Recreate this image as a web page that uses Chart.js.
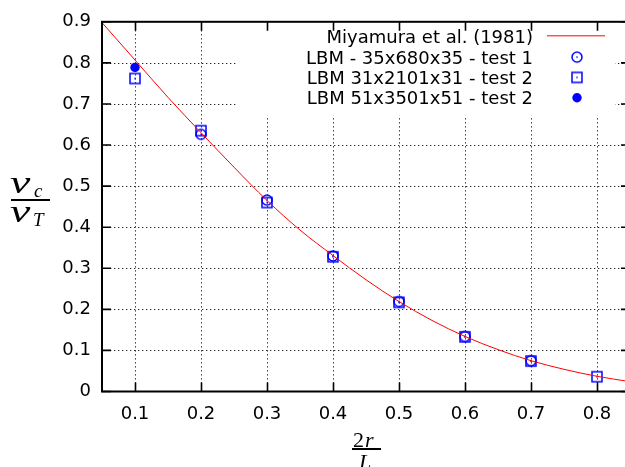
<!DOCTYPE html>
<html><head><meta charset="utf-8">
<script src="https://cdn.jsdelivr.net/npm/chart.js@4/dist/chart.umd.min.js"></script>
<style>
html,body{margin:0;padding:0;overflow:hidden;background:#fff;width:625px;height:467px}
#wrap{width:640px;height:467px}
</style></head>
<body><div id="wrap"><canvas id="c" width="640" height="467"></canvas></div>
<script>
// ---- data ----
const curveX = [0.05,0.10,0.15,0.20,0.25,0.30,0.35,0.40,0.45,0.50,0.55,0.60,0.65,0.70,0.75,0.80,0.85];
const curveY = [0.898,0.807,0.716,0.630,0.546,0.465,0.393,0.331,0.272,0.219,0.173,0.134,0.102,0.075,0.054,0.037,0.024];
const test1X = [0.2,0.3,0.4,0.5,0.6,0.7];
const test1Y = [0.626,0.466,0.330,0.219,0.134,0.075];
const test2X = [0.1,0.2,0.3,0.4,0.5,0.6,0.7,0.8];
const test2Y = [0.762,0.635,0.460,0.328,0.217,0.133,0.074,0.036];
const test3X = [0.1];
const test3Y = [0.789];
const xTicks = [0.1,0.2,0.3,0.4,0.5,0.6,0.7,0.8];
const xTickLabels = ['0.1','0.2','0.3','0.4','0.5','0.6','0.7','0.8'];
const yTicks = [0,0.1,0.2,0.3,0.4,0.5,0.6,0.7,0.8,0.9];
const yTickLabels = ['0','0.1','0.2','0.3','0.4','0.5','0.6','0.7','0.8','0.9'];
const seriesNames = ['Miyamura et al. (1981)','LBM - 35x680x35 - test 1','LBM 31x2101x31 - test 2','LBM 51x3501x51 - test 2'];

const BLUE = '#0000ff', RED = '#ff0000';
function makeMarker(kind){
  const c = document.createElement('canvas'); c.width = 16; c.height = 16;
  const g = c.getContext('2d');
  g.strokeStyle = BLUE; g.fillStyle = BLUE; g.lineWidth = 1.5;
  if (kind === 'circle'){ g.beginPath(); g.arc(8,8,5,0,Math.PI*2); g.stroke(); }
  else { g.strokeRect(3,3,10,10); }
  g.fillRect(7.3,7.3,1.4,1.4);
  return c;
}
const mCircle = makeMarker('circle'), mSquare = makeMarker('square');
const pts = (xs, ys) => xs.map((v,i)=>({x:v, y:ys[i]}));

const decor = {
  id:'decor',
  beforeDatasetsDraw(chart){
    const {ctx, chartArea:a, scales:{x,y}} = chart;
    ctx.save();
    ctx.strokeStyle = '#222'; ctx.lineWidth = 1; ctx.setLineDash([1.3,2.7]);
    xTicks.forEach(v=>{ const px = Math.round(x.getPixelForValue(v))+0.5;
      ctx.beginPath(); ctx.moveTo(px,a.bottom); ctx.lineTo(px,a.top); ctx.stroke(); });
    yTicks.forEach(v=>{ if (v<=y.min+1e-9 || v>=y.max-1e-9) return;
      const py = Math.round(y.getPixelForValue(v))+0.5;
      ctx.beginPath(); ctx.moveTo(a.left,py); ctx.lineTo(a.right,py); ctx.stroke(); });
    ctx.setLineDash([]);
    // opaque key box
    ctx.fillStyle = '#fff';
    ctx.fillRect(237, a.top+1, 378, 93);
    ctx.restore();
  },
  afterDatasetsDraw(chart){
    const {ctx, chartArea:a, scales:{x,y}} = chart;
    ctx.save();
    ctx.strokeStyle = '#000'; ctx.lineWidth = 1.6;
    const tl = 9;
    xTicks.forEach(v=>{ const px = Math.round(x.getPixelForValue(v))+0.5;
      ctx.beginPath(); ctx.moveTo(px,a.bottom); ctx.lineTo(px,a.bottom-tl);
      ctx.moveTo(px,a.top); ctx.lineTo(px,a.top+tl); ctx.stroke(); });
    yTicks.forEach(v=>{ const py = y.getPixelForValue(v);
      ctx.beginPath(); ctx.moveTo(a.left,py); ctx.lineTo(a.left+tl,py);
      ctx.moveTo(a.right,py); ctx.lineTo(a.right-tl,py); ctx.stroke(); });
    ctx.lineWidth = 2;
    ctx.strokeRect(a.left, a.top, a.right-a.left, a.bottom-a.top);
    // key
    ctx.font = '18px "DejaVu Sans"'; ctx.fillStyle = '#000'; ctx.textAlign = 'right'; ctx.textBaseline = 'alphabetic';
    const tx = 533, base = [43.3,63.6,83.9,104.2], mx = 577;
    seriesNames.forEach((s,i)=>ctx.fillText(s, tx, base[i]));
    ctx.strokeStyle = RED; ctx.lineWidth = 1;
    ctx.beginPath(); ctx.moveTo(547, base[0]-7.5); ctx.lineTo(605, base[0]-7.5); ctx.stroke();
    ctx.drawImage(mCircle, mx-8, base[1]-6.5-8);
    ctx.drawImage(mSquare, mx-8, base[2]-6.5-8);
    ctx.fillStyle = BLUE; ctx.beginPath(); ctx.arc(mx, base[3]-6.5, 4.7, 0, Math.PI*2); ctx.fill();
    // axis titles (math fractions)
    ctx.fillStyle = '#000'; ctx.textAlign = 'left';
    ctx.font = 'italic 34px "Liberation Serif"';
    ctx.save(); ctx.scale(1.35,0.9);
    ctx.fillText('v', 10/1.35, 193/0.9);
    ctx.fillText('v', 10/1.35, 222/0.9);
    ctx.restore();
    ctx.font = 'italic 19px "Liberation Serif"';
    ctx.fillText('c', 34, 197);
    ctx.fillText('T', 33, 226);
    ctx.fillRect(11, 199, 39, 2);
    ctx.font = '22px "Liberation Serif"';
    ctx.fillText('2', 353, 447);
    ctx.font = 'italic 22px "Liberation Serif"';
    ctx.fillText('r', 365, 447);
    ctx.fillText('L', 359, 469);
    ctx.fillRect(352, 448, 29, 2);
    ctx.restore();
  }
};

new Chart(document.getElementById('c'), {
  type:'scatter',
  data:{ datasets:[
    { label:seriesNames[0], data:pts(curveX,curveY), showLine:true, borderColor:RED, borderWidth:1,
      pointRadius:0, tension:0.4, cubicInterpolationMode:'monotone', fill:false },
    { label:seriesNames[1], data:pts(test1X,test1Y), pointStyle:mCircle, pointRadius:5, showLine:false },
    { label:seriesNames[2], data:pts(test2X,test2Y), pointStyle:mSquare, pointRadius:5, showLine:false },
    { label:seriesNames[3], data:pts(test3X,test3Y), pointStyle:'circle', pointRadius:4.7,
      backgroundColor:BLUE, borderColor:BLUE, borderWidth:0, showLine:false }
  ]},
  options:{
    responsive:false, animation:false, devicePixelRatio:1,
    layout:{ padding:{ top:15.5, right:10, left:0, bottom:0 } },
    plugins:{ legend:{display:false}, tooltip:{enabled:false} },
    scales:{
      x:{ type:'linear', min:0.05, max:0.85,
        afterBuildTicks:s=>{ s.ticks = xTicks.map(v=>({value:v})); },
        afterFit:s=>{ s.height = 75.5; },
        grid:{display:false, drawTicks:false}, border:{display:false},
        ticks:{ padding:12, color:'#000', font:{family:'DejaVu Sans', size:18},
          callback:(v)=>{ const i = xTicks.findIndex(t=>Math.abs(t-v)<1e-9); return i>=0?xTickLabels[i]:''; } } },
      y:{ type:'linear', min:0, max:0.9,
        afterBuildTicks:s=>{ s.ticks = yTicks.map(v=>({value:v})); },
        afterFit:s=>{ s.width = 102; },
        grid:{display:false, drawTicks:false}, border:{display:false},
        ticks:{ padding:11, color:'#000', font:{family:'DejaVu Sans', size:18},
          callback:(v)=>{ const i = yTicks.findIndex(t=>Math.abs(t-v)<1e-9); return i>=0?yTickLabels[i]:''; } } }
    }
  },
  plugins:[decor]
});
</script></body></html>
